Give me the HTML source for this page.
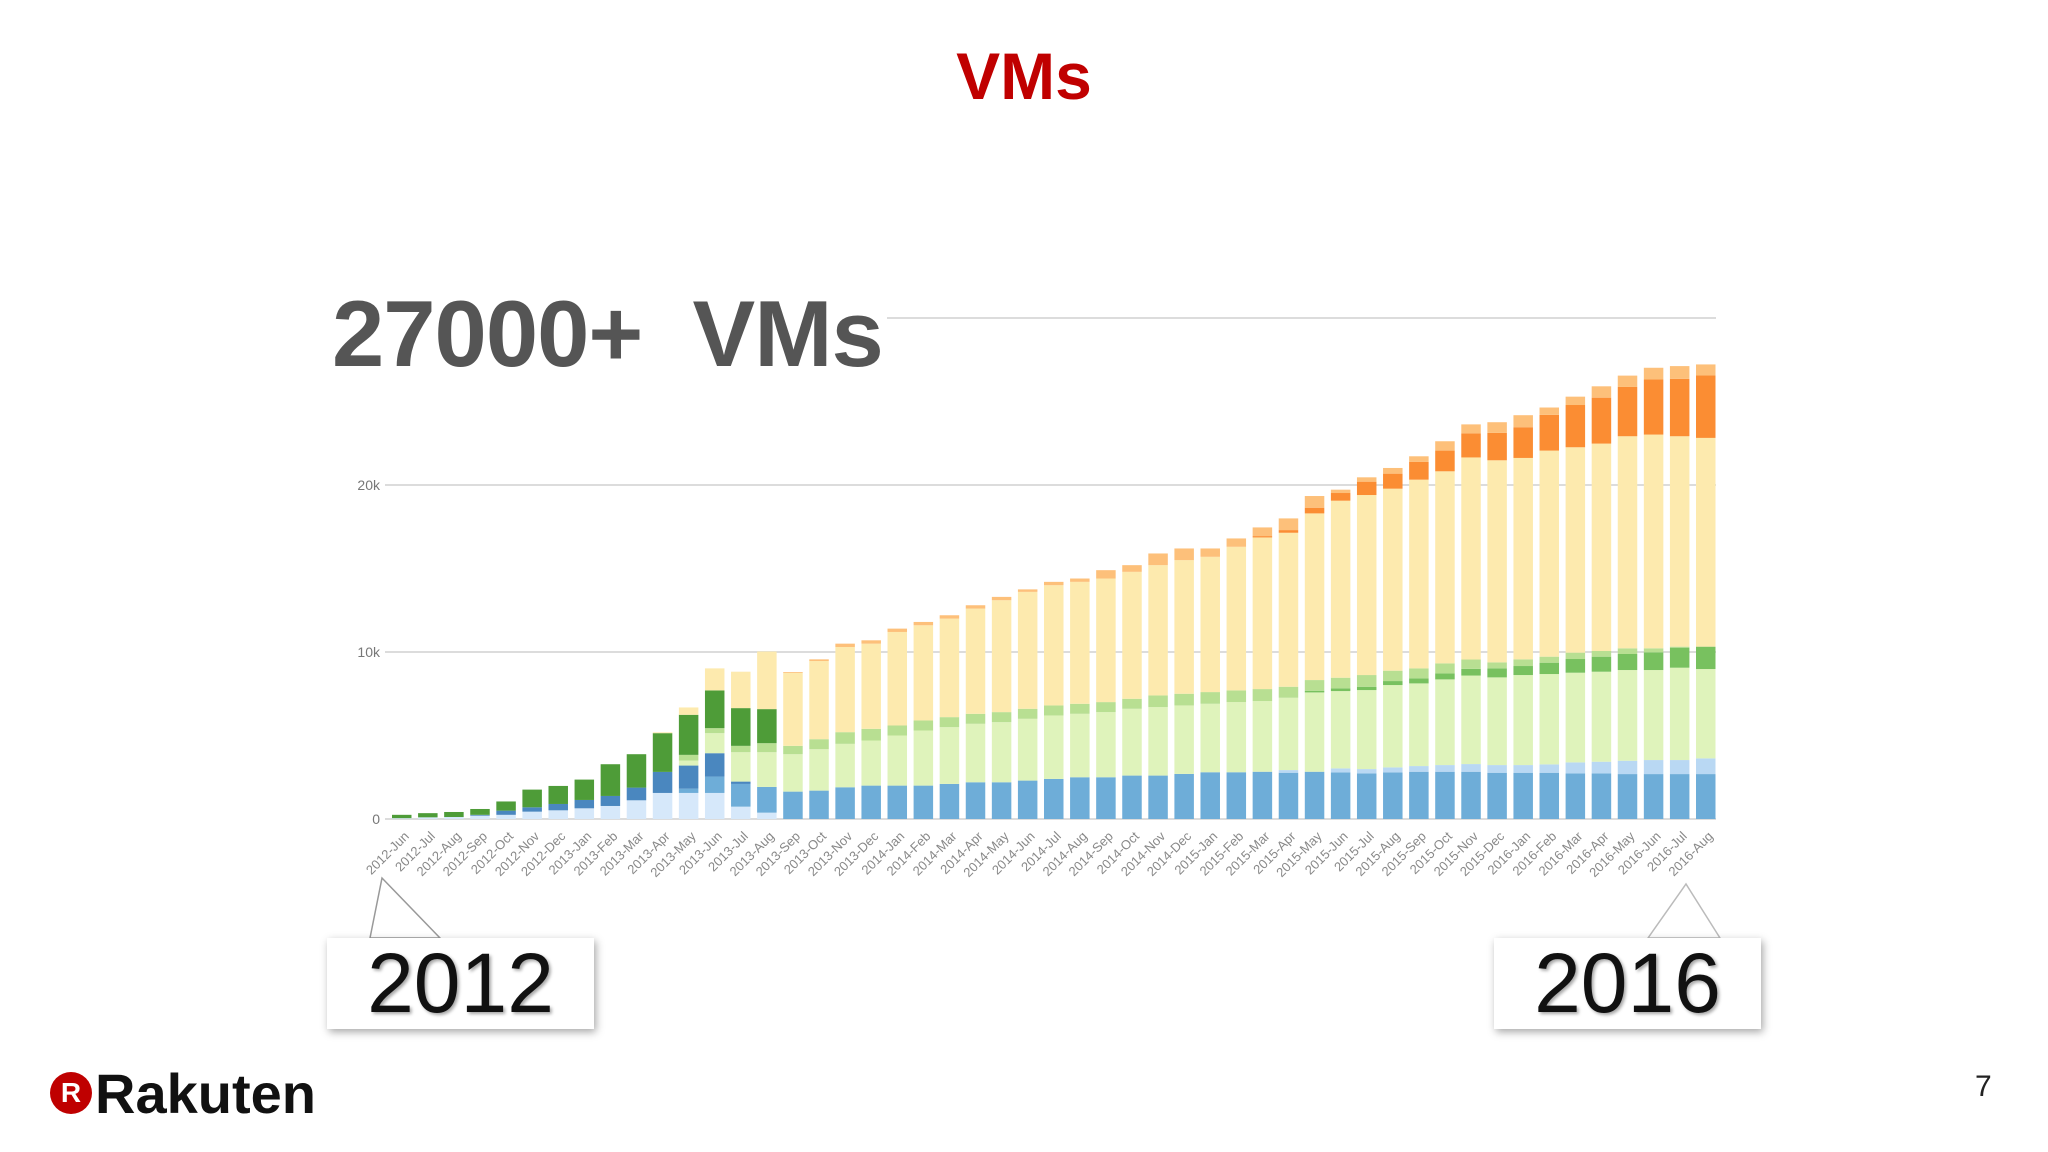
<!DOCTYPE html>
<html><head><meta charset="utf-8"><style>
html,body{margin:0;padding:0;background:#fff;}
body{width:2048px;height:1152px;position:relative;overflow:hidden;font-family:"Liberation Sans",sans-serif;}
.callout{position:absolute;background:#fff;box-shadow:2px 3px 8px rgba(0,0,0,0.35);font-size:84px;color:#111;text-align:center;line-height:91px;text-shadow:2px 2px 3px rgba(0,0,0,0.35);}
</style></head><body>
<div style="position:absolute;left:0;width:2048px;top:38px;text-align:center;font-size:66px;font-weight:bold;color:#c00000;">VMs</div>
<svg id="chart" width="2048" height="1152" style="position:absolute;left:0;top:0;"></svg>
<div style="position:absolute;left:332px;top:282px;font-size:94px;font-weight:bold;color:#555;background:#fff;line-height:104px;padding-right:4px;letter-spacing:-1px;">27000+&nbsp; VMs</div>
<svg width="2048" height="1152" style="position:absolute;left:0;top:0;pointer-events:none;">
<polygon points="370,938 382,878 440,938" fill="#fff" stroke="#999" stroke-width="1.5"/>
<polygon points="1648,938 1686,884 1720,938" fill="#fff" stroke="#bbb" stroke-width="1.5"/>
</svg>
<div class="callout" style="left:327px;top:938px;width:267px;height:91px;">2012</div>
<div class="callout" style="left:1494px;top:938px;width:267px;height:91px;">2016</div>
<div style="position:absolute;left:50px;top:1068px;height:50px;display:flex;align-items:center;">
<div style="width:42px;height:42px;border-radius:50%;background:#bf0000;color:#fff;font-weight:bold;font-size:28px;text-align:center;line-height:42px;">R</div>
<div style="font-size:56px;font-weight:bold;color:#111;margin-left:3px;letter-spacing:0px;">Rakuten</div>
</div>
<div style="position:absolute;left:1975px;top:1070px;font-size:30px;color:#222;">7</div>
<script>
const categories=["2012-Jun","2012-Jul","2012-Aug","2012-Sep","2012-Oct","2012-Nov","2012-Dec","2013-Jan","2013-Feb","2013-Mar","2013-Apr","2013-May","2013-Jun","2013-Jul","2013-Aug","2013-Sep","2013-Oct","2013-Nov","2013-Dec","2014-Jan","2014-Feb","2014-Mar","2014-Apr","2014-May","2014-Jun","2014-Jul","2014-Aug","2014-Sep","2014-Oct","2014-Nov","2014-Dec","2015-Jan","2015-Feb","2015-Mar","2015-Apr","2015-May","2015-Jun","2015-Jul","2015-Aug","2015-Sep","2015-Oct","2015-Nov","2015-Dec","2016-Jan","2016-Feb","2016-Mar","2016-Apr","2016-May","2016-Jun","2016-Jul","2016-Aug"];
const paleBlue=[0.05,0.1,0.12,0.2,0.25,0.44,0.52,0.64,0.78,1.12,1.56,1.56,1.56,0.74,0.38,0,0,0,0,0,0,0,0,0,0,0,0,0,0,0,0,0,0,0,0,0,0,0,0,0,0,0,0,0,0,0,0,0,0,0,0];
const midBlue=[0,0,0,0,0,0,0,0,0,0,0,0.26,0.98,1.36,1.54,1.64,1.7,1.9,2.0,2.0,2.0,2.1,2.2,2.2,2.3,2.4,2.5,2.5,2.6,2.6,2.7,2.8,2.8,2.83,2.77,2.83,2.79,2.73,2.79,2.83,2.83,2.83,2.77,2.77,2.77,2.73,2.73,2.69,2.69,2.69,2.69];
const steelBlue=[0,0,0,0.05,0.25,0.26,0.38,0.5,0.6,0.76,1.26,1.38,1.4,0.14,0,0,0,0,0,0,0,0,0,0,0,0,0,0,0,0,0,0,0,0,0,0,0,0,0,0,0,0,0,0,0,0,0,0,0,0,0];
const lightBlue=[0,0,0,0,0,0,0,0,0,0,0,0,0,0,0,0,0,0,0,0,0,0,0,0,0,0,0,0,0,0,0,0,0,0,0.16,0,0.24,0.26,0.3,0.34,0.4,0.46,0.46,0.46,0.5,0.66,0.7,0.8,0.84,0.84,0.94];
const paleGreen=[0,0,0,0,0,0,0,0,0,0,0,0.3,1.2,1.76,2.08,2.24,2.48,2.6,2.7,3.0,3.3,3.4,3.5,3.6,3.7,3.8,3.8,3.9,4.0,4.1,4.1,4.1,4.2,4.23,4.33,4.75,4.63,4.73,4.93,4.95,5.13,5.3,5.25,5.39,5.41,5.37,5.39,5.43,5.39,5.53,5.35];
const green=[0,0,0,0,0,0,0,0,0,0,0,0,0,0,0,0,0,0,0,0,0,0,0,0,0,0,0,0,0,0,0,0,0,0,0,0.1,0.16,0.2,0.24,0.3,0.36,0.4,0.54,0.54,0.68,0.82,0.9,0.96,1.06,1.2,1.34];
const lightGreen=[0,0,0,0,0,0,0,0,0,0,0,0.34,0.3,0.38,0.54,0.5,0.6,0.7,0.7,0.6,0.6,0.6,0.6,0.6,0.6,0.6,0.6,0.6,0.6,0.7,0.7,0.7,0.7,0.72,0.66,0.64,0.64,0.7,0.62,0.6,0.6,0.56,0.36,0.4,0.36,0.38,0.34,0.34,0.24,0.06,0];
const darkGreen=[0.2,0.25,0.3,0.35,0.55,1.06,1.08,1.22,1.9,2.0,2.32,2.4,2.26,2.26,2.04,0,0,0,0,0,0,0,0,0,0,0,0,0,0,0,0,0,0,0,0,0,0,0,0,0,0,0,0,0,0,0,0,0,0,0,0];
const paleYellow=[0,0,0,0,0,0,0,0,0,0,0.05,0.44,1.32,2.18,3.45,4.37,4.68,5.1,5.1,5.6,5.7,5.9,6.3,6.7,7.0,7.2,7.3,7.4,7.6,7.8,8.0,8.1,8.6,9.08,9.22,9.98,10.6,10.78,10.9,11.3,11.5,12.1,12.1,12.06,12.34,12.3,12.42,12.7,12.8,12.6,12.5];
const orange=[0,0,0,0,0,0,0,0,0,0,0,0,0,0,0,0,0,0,0,0,0,0,0,0,0,0,0,0,0,0,0,0,0,0.08,0.16,0.34,0.46,0.8,0.9,1.06,1.24,1.44,1.64,1.84,2.14,2.53,2.75,2.95,3.3,3.44,3.74];
const lightOrange=[0,0,0,0,0,0,0,0,0,0,0,0,0,0,0,0.05,0.1,0.2,0.2,0.2,0.2,0.2,0.2,0.2,0.15,0.2,0.2,0.5,0.4,0.7,0.7,0.5,0.5,0.52,0.7,0.7,0.2,0.26,0.34,0.34,0.56,0.54,0.64,0.72,0.44,0.5,0.68,0.68,0.7,0.76,0.66];
const yTicks=[0,10,20,30];
const yTickLabels=["0","10k","20k","30k"];

const NS="http://www.w3.org/2000/svg";
const svg=document.getElementById('chart');
const X0=392, STEP=26.08, BW=19.5, Y0=819, PXK=16.7;
const xPos=i=>X0+i*STEP;
const yPos=v=>Y0-v*PXK;
function mk(tag,attrs){const e=document.createElementNS(NS,tag);for(const k in attrs)e.setAttribute(k,attrs[k]);svg.appendChild(e);return e;}
yTicks.forEach((t,i)=>{
  const l=mk('line',{x1:385,x2:1716,y1:yPos(t),y2:yPos(t),stroke:'#dcdcdc','stroke-width':2});
  
  
  const tx=mk('text',{x:380,y:yPos(t)+5,'text-anchor':'end','font-size':14,fill:'#777','font-family':'Liberation Sans, sans-serif'});
  tx.textContent=yTickLabels[i];
  
  
});
const layers=[[paleBlue,'#d6e8fa','pale-blue'],[midBlue,'#6eadd8','mid-blue'],[steelBlue,'#4a87bf','steel-blue'],[lightBlue,'#b9d8f3','light-blue'],[paleGreen,'#dff3bb','pale-green'],[green,'#78c15f','green'],[lightGreen,'#b8df92','light-green'],[darkGreen,'#4e9c38','dark-green'],[paleYellow,'#fdeaae','pale-yellow'],[orange,'#fb8d33','orange'],[lightOrange,'#fdc07a','light-orange']];
categories.forEach((c,i)=>{
  let acc=0;
  layers.forEach(([arr,col,nm])=>{
    const v=arr[i]; if(!v) return;
    const r=mk('rect',{x:xPos(i),width:BW,y:yPos(acc+v),height:v*PXK,fill:col});
    
    
    acc+=v;
  });
  const cx=xPos(i)+BW/2+8, cy=Y0+18;
  const t=mk('text',{x:cx,y:cy,'text-anchor':'end','font-size':13,fill:'#888','font-family':'Liberation Sans, sans-serif',transform:`rotate(-45 ${cx} ${cy})`});
  t.textContent=c;
  
  
});
</script>
</body></html>
